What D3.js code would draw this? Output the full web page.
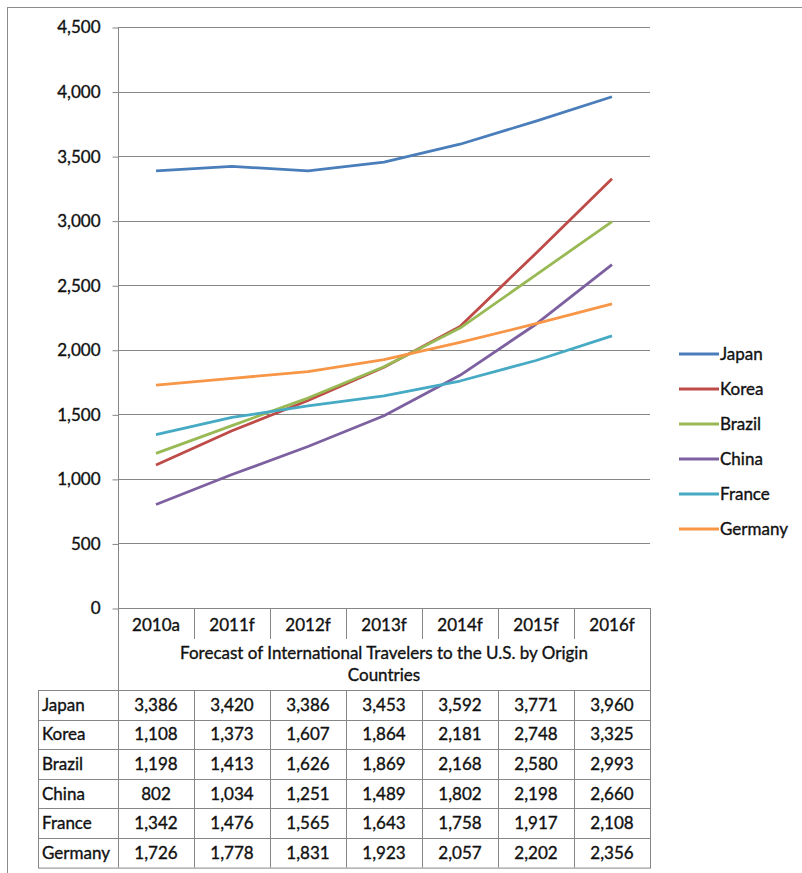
<!DOCTYPE html>
<html>
<head>
<meta charset="utf-8">
<script src="https://cdn.jsdelivr.net/npm/d3@7"></script>
<style>
  body { margin: 0; background: #fff; }
  svg text { font-family: Lato, "Noto Sans", sans-serif; fill: #111; font-size: 17px; stroke: #111; stroke-width: 0.35px; }
</style>
</head>
<body>
<div id="chart"></div>
<script>
// Chart data
var categories = ["2010a", "2011f", "2012f", "2013f", "2014f", "2015f", "2016f"];
var countries = ["Japan", "Korea", "Brazil", "China", "France", "Germany"];
var japan = [3386, 3420, 3386, 3453, 3592, 3771, 3960];
var korea = [1108, 1373, 1607, 1864, 2181, 2748, 3325];
var brazil = [1198, 1413, 1626, 1869, 2168, 2580, 2993];
var china = [802, 1034, 1251, 1489, 1802, 2198, 2660];
var france = [1342, 1476, 1565, 1643, 1758, 1917, 2108];
var germany = [1726, 1778, 1831, 1923, 2057, 2202, 2356];
var yTicks = [0, 500, 1000, 1500, 2000, 2500, 3000, 3500, 4000, 4500];
var titleLines = ["Forecast of International Travelers to the U.S. by Origin", "Countries"];
var colors = ["#4a7ebb", "#be4b48", "#98b954", "#7d60a0", "#46aac5", "#f79646"];

var series = [japan, korea, brazil, china, france, germany].map(function(v, i) {
  return { name: countries[i], values: v, color: colors[i] };
});

var width = 802, height = 873;
var plotLeft = 118, plotRight = 650, plotTop = 27, plotBottom = 608;
var rowH = 29.6, tableTop = 690, tableLeft = 38;
var tableBottom = tableTop + rowH * 6;

var svg = d3.select("#chart").append("svg")
  .attr("width", width)
  .attr("height", height);

// outer chart border
svg.append("rect")
  .attr("x", 7.5).attr("y", 7.5)
  .attr("width", width + 10).attr("height", height + 10)
  .attr("fill", "none").attr("stroke", "#8c8c8c");

var x = d3.scaleBand().domain(categories).range([plotLeft, plotRight]);
var y = d3.scaleLinear().domain([0, 4500]).range([plotBottom, plotTop]);
function cx(c) { return x(c) + x.bandwidth() / 2; }

// gridlines
svg.append("g").selectAll("line")
  .data(yTicks)
  .enter().append("line")
  .attr("x1", plotLeft).attr("x2", plotRight)
  .attr("y1", function(d) { return Math.round(y(d)) + 0.5; })
  .attr("y2", function(d) { return Math.round(y(d)) + 0.5; })
  .attr("stroke", "#868686");

// y axis
var yAxis = d3.axisLeft(y).tickValues(yTicks).tickFormat(d3.format(",")).tickSize(6).tickPadding(12);
var gy = svg.append("g")
  .attr("transform", "translate(" + (plotLeft + 0.5) + ",0.5)")
  .call(yAxis);
gy.select(".domain").remove();
gy.selectAll(".tick line").attr("stroke", "#868686");
gy.selectAll("text").attr("font-size", null).attr("font-family", null).attr("fill", null);

// vertical axis line runs down through the table
svg.append("line")
  .attr("x1", plotLeft + 0.5).attr("x2", plotLeft + 0.5)
  .attr("y1", plotTop).attr("y2", tableBottom)
  .attr("stroke", "#868686");

// right border of the category/table block
svg.append("line")
  .attr("x1", plotRight + 0.5).attr("x2", plotRight + 0.5)
  .attr("y1", plotBottom).attr("y2", tableBottom)
  .attr("stroke", "#868686");

// category header separators
svg.append("g").selectAll("line")
  .data(categories.slice(1))
  .enter().append("line")
  .attr("x1", function(d) { return Math.round(x(d)) + 0.5; })
  .attr("x2", function(d) { return Math.round(x(d)) + 0.5; })
  .attr("y1", plotBottom).attr("y2", plotBottom + 31)
  .attr("stroke", "#868686");

svg.append("g").selectAll("text")
  .data(categories)
  .enter().append("text")
  .attr("x", cx)
  .attr("y", plotBottom + 23)
  .attr("text-anchor", "middle")
  .text(function(d) { return d; });

// table title
svg.append("g").selectAll("text")
  .data(titleLines)
  .enter().append("text")
  .attr("x", (plotLeft + plotRight) / 2)
  .attr("y", function(d, i) { return 659 + i * 22; })
  .attr("text-anchor", "middle")
  .text(function(d) { return d; });

// lines
var line = d3.line()
  .x(function(d, i) { return cx(categories[i]); })
  .y(function(d) { return y(d); });

svg.append("g").selectAll("path")
  .data(series)
  .enter().append("path")
  .attr("d", function(d) { return line(d.values); })
  .attr("fill", "none")
  .attr("stroke", function(d) { return d.color; })
  .attr("stroke-width", 2.8)
  .attr("stroke-linejoin", "round");

// legend
var legend = svg.append("g").selectAll("g")
  .data(series)
  .enter().append("g")
  .attr("transform", function(d, i) { return "translate(679," + (354 + i * 35) + ")"; });
legend.append("line")
  .attr("x1", 0).attr("x2", 40)
  .attr("stroke", function(d) { return d.color; })
  .attr("stroke-width", 2.8);
legend.append("text")
  .attr("x", 41).attr("y", 6)
  .text(function(d) { return d.name; });

// data table
var table = svg.append("g");
table.append("rect")
  .attr("x", tableLeft + 0.5).attr("y", tableTop + 0.5)
  .attr("width", plotRight - tableLeft).attr("height", rowH * 6)
  .attr("fill", "none").attr("stroke", "#868686");
table.selectAll("line.row")
  .data(d3.range(1, 6))
  .enter().append("line")
  .attr("class", "row")
  .attr("x1", tableLeft).attr("x2", plotRight)
  .attr("y1", function(d) { return Math.round(tableTop + d * rowH) + 0.5; })
  .attr("y2", function(d) { return Math.round(tableTop + d * rowH) + 0.5; })
  .attr("stroke", "#868686");
table.selectAll("line.col")
  .data(categories.slice(1))
  .enter().append("line")
  .attr("class", "col")
  .attr("x1", function(d) { return Math.round(x(d)) + 0.5; })
  .attr("x2", function(d) { return Math.round(x(d)) + 0.5; })
  .attr("y1", tableTop).attr("y2", tableBottom)
  .attr("stroke", "#868686");

var rows = table.selectAll("g.r")
  .data(series)
  .enter().append("g")
  .attr("class", "r")
  .attr("transform", function(d, i) { return "translate(0," + (tableTop + i * rowH + rowH / 2 + 6) + ")"; });
rows.append("text")
  .attr("x", tableLeft + 4)
  .text(function(d) { return d.name; });
rows.selectAll("text.v")
  .data(function(d) { return d.values; })
  .enter().append("text")
  .attr("class", "v")
  .attr("x", function(d, i) { return cx(categories[i]); })
  .attr("text-anchor", "middle")
  .text(function(d) { return d3.format(",")(d); });
</script>
</body>
</html>
